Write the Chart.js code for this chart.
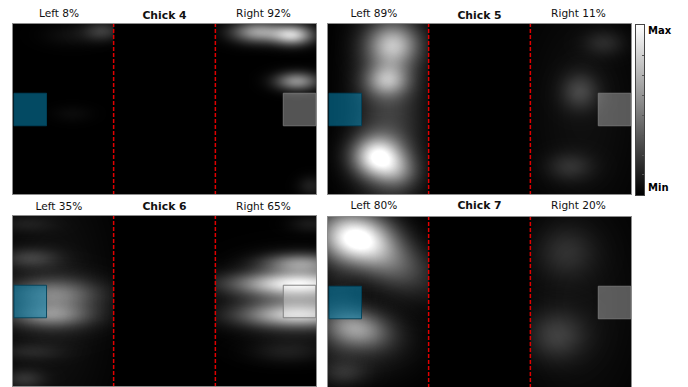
<!DOCTYPE html>
<html><head><meta charset="utf-8">
<script src="https://cdn.jsdelivr.net/npm/chart.js@4.4.0/dist/chart.umd.min.js"></script>
<style>
html,body{margin:0;padding:0;background:#fff;width:688px;height:387px;overflow:hidden;position:relative;font-family:'DejaVu Sans',sans-serif;}
.pan{position:absolute;}
.lbl{position:absolute;font-size:10.6px;line-height:13px;color:#111;white-space:nowrap;transform:translateX(-50%);}
.ttl{position:absolute;font-size:10.8px;font-weight:bold;line-height:13px;color:#111;white-space:nowrap;transform:translateX(-50%);}
.cb{position:absolute;left:635px;top:24px;width:8px;height:170px;border:1px solid #444;background:linear-gradient(to bottom,#ffffff,#000000);}
.tick{position:absolute;right:0;width:2px;height:1px;background:#555;}
.cbl{position:absolute;left:648px;font-size:10px;font-weight:bold;line-height:12px;color:#000;white-space:nowrap;}
</style></head><body>
<script>
// ---- data ----
const chickNames = ['Chick 4', 'Chick 5', 'Chick 6', 'Chick 7'];
const leftPercent = [8, 89, 35, 80];
const rightPercent = [92, 11, 65, 20];
const dividerX = [101.3, 202.7];
const leftBox = {x: 18.2, y: 86};
const rightBox = {x: 286.6, y: 86};
// heat blobs: [x, y, spreadX, spreadY, peak, tiltDeg]  (x 0..304, y 0..171 from top)
const chick4Left = [
  [90, 8, 13, 7, 0.22, 0],
  [60, 12, 20, 8, 0.06, 0],
  [60, 90, 14, 6, 0.04, 0]
];
const chick4Right = [
  [245, 9, 18, 7.5, 0.6, 0],
  [280, 12, 14, 7, 0.75, 0],
  [284, 58, 15, 6.5, 0.55, 0],
  [298, 162, 9, 7, 0.12, 0]
];
const chick5Left = [
  [66, 22, 18, 15, 0.6, 0],
  [60, 57, 15, 11, 0.5, 0],
  [50, 133, 17, 14, 0.85, 0],
  [70, 148, 15, 12, 0.3, 0],
  [62, 85, 24, 75, 0.25, 0]
];
const chick5Right = [
  [276, 20, 14, 9, 0.13, 0],
  [252, 68, 13, 13, 0.22, 0],
  [242, 143, 16, 10, 0.15, 0],
  [255, 90, 40, 80, 0.06, 0]
];
const chick6Left = [
  [40, 78, 32, 10, 0.3, 0],
  [38, 100, 28, 8, 0.35, 0],
  [45, 88, 30, 18, 0.18, 0],
  [18, 43, 20, 7, 0.2, 0],
  [14, 9, 20, 6, 0.08, 0],
  [18, 136, 22, 6, 0.1, 0],
  [12, 163, 14, 7, 0.16, 0],
  [40, 85, 40, 90, 0.07, 0]
];
const chick6Right = [
  [288, 48, 26, 7, 0.5, 0],
  [285, 68, 45, 8, 0.7, 0],
  [285, 100, 40, 8, 0.55, 0],
  [285, 84, 40, 22, 0.35, 0],
  [274, 136, 25, 8, 0.1, 0],
  [298, 9, 15, 6, 0.1, 0]
];
const chick7Left = [
  [28, 21, 24, 17, 0.7, 0],
  [50, 36, 38, 18, 0.5, 30],
  [30, 112, 22, 13, 0.5, 10],
  [40, 125, 35, 25, 0.12, 0],
  [18, 156, 16, 8, 0.12, 0],
  [10, 85, 15, 60, 0.08, 0]
];
const chick7Right = [
  [238, 36, 20, 18, 0.14, 0],
  [229, 119, 20, 17, 0.2, 0],
  [250, 85, 45, 85, 0.06, 0]
];
const leftBlobs = [chick4Left, chick5Left, chick6Left, chick7Left];
const rightBlobs = [chick4Right, chick5Right, chick6Right, chick7Right];
const colorbarTicks = [0.121, 0.238, 0.355, 0.472, 0.589, 0.706, 0.825];
const colorbarLabels = ['Max', 'Min'];

// ---- drawing ----
Chart.defaults.font.family = "'DejaVu Sans', sans-serif";
const blobCache = {};
function blobImage(sx, sy, peak) {
  const key = sx + '_' + sy + '_' + peak;
  if (blobCache[key]) return blobCache[key];
  const hw = Math.ceil(sx * 3.2), hh = Math.ceil(sy * 3.2);
  const c = document.createElement('canvas');
  c.width = 2 * hw; c.height = 2 * hh;
  const g = c.getContext('2d');
  const img = g.createImageData(c.width, c.height);
  for (let j = 0; j < c.height; j++) {
    for (let i = 0; i < c.width; i++) {
      const dx = (i + 0.5 - hw) / sx, dy = (j + 0.5 - hh) / sy;
      const v = Math.min(1, peak * Math.exp(-0.5 * (dx * dx + dy * dy)));
      const k = (j * c.width + i) * 4;
      img.data[k] = 255; img.data[k + 1] = 255; img.data[k + 2] = 255;
      img.data[k + 3] = Math.round(v * 255);
    }
  }
  g.putImageData(img, 0, 0);
  blobCache[key] = c;
  return c;
}

const panelPlugin = {
  id: 'panelLook',
  beforeDatasetsDraw(chart) {
    const {ctx, chartArea: a} = chart;
    ctx.save(); ctx.fillStyle = '#000';
    ctx.fillRect(a.left, a.top, a.right - a.left, a.bottom - a.top);
    ctx.restore();
  },
  beforeDatasetDraw(chart, args) {
    if (chart.data.datasets[args.index].additive) {
      chart.ctx.save(); chart.ctx.globalCompositeOperation = 'lighter';
    }
  },
  afterDatasetDraw(chart, args) {
    if (chart.data.datasets[args.index].additive) chart.ctx.restore();
  },
  afterDraw(chart) {
    const {ctx, chartArea: a} = chart;
    ctx.save(); ctx.strokeStyle = '#8c8c8c'; ctx.lineWidth = 1;
    ctx.strokeRect(a.left + 0.5, a.top + 0.5, a.right - a.left - 1, a.bottom - a.top - 1);
    ctx.restore();
  }
};

const panelPos = [{l: 12, t: 23}, {l: 327, t: 23}, {l: 12, t: 215}, {l: 327, t: 216}];
const labelTop = [[7.3, 8.5], [7.3, 8.5], [199.5, 200.2], [198.5, 199.2]];
const W = 305, H = 172;

function addText(cls, txt, x, y) {
  const d = document.createElement('div');
  d.className = cls; d.textContent = txt;
  d.style.left = x + 'px'; d.style.top = y + 'px';
  document.body.appendChild(d);
}
function blobSet(arr, clip) {
  return {
    data: arr.map(b => ({x: b[0], y: b[1], sx: b[2], sy: b[3], pk: b[4], rot: b[5]})),
    additive: true, clip: clip, pointRadius: 2, borderWidth: 0,
    pointStyle: (c) => c.raw ? blobImage(c.raw.sx, c.raw.sy, c.raw.pk) : 'circle',
    rotation: (c) => c.raw ? c.raw.rot : 0
  };
}

chickNames.forEach((name, p) => {
  const pos = panelPos[p];
  const wrap = document.createElement('div');
  wrap.className = 'pan';
  wrap.style.left = pos.l + 'px'; wrap.style.top = pos.t + 'px';
  const cv = document.createElement('canvas');
  cv.width = W; cv.height = H;
  cv.style.width = W + 'px'; cv.style.height = H + 'px';
  wrap.appendChild(cv);
  document.body.appendChild(wrap);

  addText('lbl', 'Left ' + leftPercent[p] + '%', pos.l + 47, labelTop[p][0]);
  addText('lbl', 'Right ' + rightPercent[p] + '%', pos.l + 251.5, labelTop[p][0]);
  addText('ttl', name, pos.l + 152.5, labelTop[p][1]);

  const px1 = dividerX[0] * W / 304, px2 = dividerX[1] * W / 304;
  new Chart(cv, {
    type: 'scatter',
    data: {
      datasets: [
        {data: [{x: dividerX[0], y: 0}, {x: dividerX[0], y: 171}], showLine: true, pointRadius: 0,
         borderColor: '#e00000', borderWidth: 1.5, borderDash: [4, 2]},
        {data: [{x: dividerX[1], y: 0}, {x: dividerX[1], y: 171}], showLine: true, pointRadius: 0,
         borderColor: '#e00000', borderWidth: 1.5, borderDash: [4, 2]},
        {data: [leftBox], pointStyle: 'rect', pointRadius: 23, backgroundColor: 'rgba(5,135,180,0.55)',
         borderColor: 'rgba(0,65,90,0.9)', borderWidth: 1},
        {data: [rightBox], pointStyle: 'rect', pointRadius: 23, backgroundColor: 'rgba(255,255,255,0.33)',
         borderColor: 'rgba(120,120,120,0.9)', borderWidth: 1},
        blobSet(leftBlobs[p], {left: 0, top: 0, bottom: 0, right: -(W - px1)}),
        blobSet(rightBlobs[p], {left: -px2, top: 0, bottom: 0, right: 0})
      ]
    },
    options: {
      responsive: false, animation: false, events: [],
      layout: {padding: 0, autoPadding: false},
      plugins: {legend: {display: false}, tooltip: {enabled: false}},
      scales: {
        x: {type: 'linear', min: 0, max: 304, display: false},
        y: {type: 'linear', min: 0, max: 171, reverse: true, display: false}
      }
    },
    plugins: [panelPlugin]
  });
});

// colorbar
const cb = document.createElement('div');
cb.className = 'cb';
colorbarTicks.forEach(f => {
  const t = document.createElement('div');
  t.className = 'tick';
  t.style.top = (170 * (1 - f)) + 'px';
  cb.appendChild(t);
});
document.body.appendChild(cb);
addText('cbl', colorbarLabels[0], 648, 24.5);
addText('cbl', colorbarLabels[1], 648, 182);
</script>
</body></html>
